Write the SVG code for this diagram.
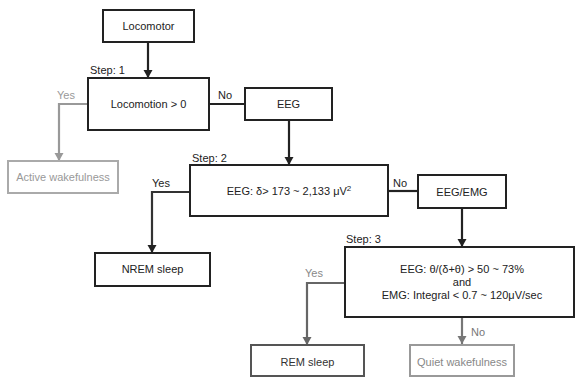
<svg xmlns="http://www.w3.org/2000/svg" width="576" height="377" viewBox="0 0 576 377">
<style>
text{font-family:"Liberation Sans",Arial,sans-serif;font-size:11px;fill:#222}
.c{text-anchor:middle}
.box{fill:#fff;stroke:#222;stroke-width:2}
.ln{fill:none;stroke:#222;stroke-width:2.2}
</style>
<defs>
<marker id="ab" markerUnits="userSpaceOnUse" markerWidth="10" markerHeight="10" refX="8" refY="5" orient="auto"><path d="M0,0.5 L8,5 L0,9.5 z" fill="#222"/></marker>
<marker id="ag" markerUnits="userSpaceOnUse" markerWidth="10" markerHeight="10" refX="8" refY="5" orient="auto"><path d="M0,0.5 L8,5 L0,9.5 z" fill="#999"/></marker>
<marker id="ad" markerUnits="userSpaceOnUse" markerWidth="10" markerHeight="10" refX="8" refY="5" orient="auto"><path d="M0,0.5 L8,5 L0,9.5 z" fill="#666"/></marker>
<marker id="am" markerUnits="userSpaceOnUse" markerWidth="10" markerHeight="10" refX="8" refY="5" orient="auto"><path d="M0,0.5 L8,5 L0,9.5 z" fill="#777"/></marker>
</defs>
<rect width="576" height="377" fill="#fff"/>
<g id="connectors">
<path class="ln" d="M148,42 V78" marker-end="url(#ab)"/>
<path class="ln" d="M88,104 H59 V161" stroke="#999" style="stroke:#999" marker-end="url(#ag)"/>
<path class="ln" d="M209,104 H245"/>
<path class="ln" d="M289,120 V165" marker-end="url(#ab)"/>
<path class="ln" d="M190,192 H152 V253" style="stroke:#333" marker-end="url(#ab)"/>
<path class="ln" d="M388,191 H418"/>
<path class="ln" d="M462,208 V247" marker-end="url(#ab)"/>
<path class="ln" d="M345,283 H307 V345" style="stroke:#666" marker-end="url(#ad)"/>
<path class="ln" d="M462,317 V344" style="stroke:#777" marker-end="url(#am)"/>
<text x="57" y="99" style="fill:#999">Yes</text>
<text x="218" y="99">No</text>
<text x="152" y="187">Yes</text>
<text x="393" y="187">No</text>
<text x="305" y="277" style="fill:#888">Yes</text>
<text x="471" y="336" style="fill:#777">No</text>
</g>
<g id="locomotor"><rect class="box" x="103" y="10" width="91" height="32"/><text class="c" x="148.5" y="30">Locomotor</text></g>
<g id="step1"><text x="90" y="74">Step: 1</text><rect class="box" x="88" y="78" width="121" height="52"/><text class="c" x="148.5" y="108">Locomotion &gt; 0</text></g>
<g id="active"><rect class="box" x="8" y="161" width="110" height="32" style="stroke:#aaa"/><text class="c" x="63" y="181" style="fill:#999">Active wakefulness</text></g>
<g id="eeg"><rect class="box" x="245" y="88" width="87" height="32"/><text class="c" x="288.5" y="108">EEG</text></g>
<g id="step2"><text x="192" y="162">Step: 2</text><rect class="box" x="190" y="165" width="198" height="51"/><text class="c" x="289" y="195">EEG: δ&gt; 173 ~ 2,133 μV<tspan dy="-4" font-size="8">2</tspan></text></g>
<g id="nrem"><rect class="box" x="95" y="253" width="115" height="33"/><text class="c" x="152.5" y="273">NREM sleep</text></g>
<g id="eegemg"><rect class="box" x="418" y="175" width="88" height="33"/><text class="c" x="462" y="196">EEG/EMG</text></g>
<g id="step3"><text x="346" y="243">Step: 3</text><rect class="box" x="345" y="247" width="229" height="70"/>
<text class="c" x="462" y="273">EEG: θ/(δ+θ) &gt; 50 ~ 73%</text>
<text class="c" x="462" y="286">and</text>
<text class="c" x="462" y="299">EMG: Integral &lt; 0.7 ~ 120μV/sec</text></g>
<g id="rem"><rect class="box" x="251" y="345" width="113" height="31" style="stroke:#555"/><text class="c" x="307.5" y="366" style="fill:#333">REM sleep</text></g>
<g id="quiet"><rect class="box" x="410" y="345" width="104" height="31" style="stroke:#999"/><text class="c" x="462" y="366" style="fill:#888">Quiet wakefulness</text></g>
</svg>
